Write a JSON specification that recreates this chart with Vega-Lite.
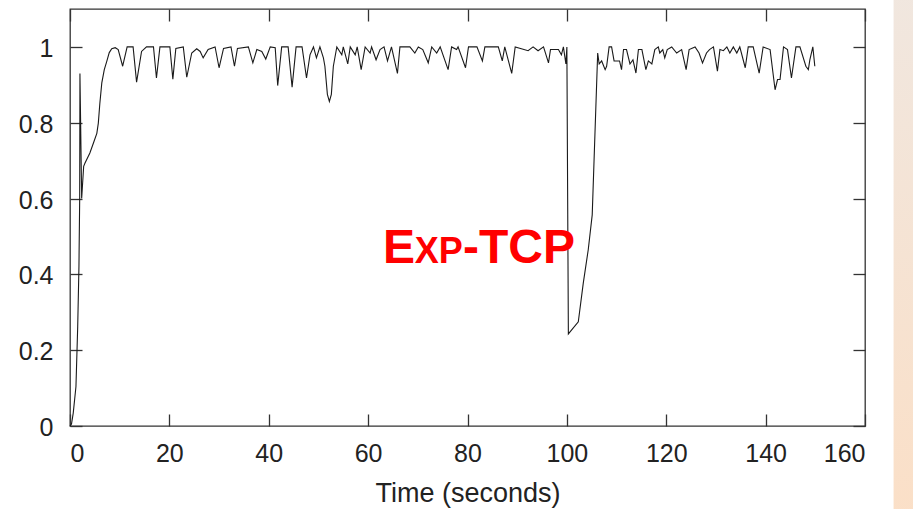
{
  "$schema": "https://vega.github.io/schema/vega-lite/v6.json",
  "width": 795,
  "height": 417,
  "autosize": {"type": "none"},
  "padding": {"left": 70, "top": 9, "right": 48, "bottom": 83},
  "background": "white",
  "config": {
    "view": {"stroke": "#333333", "strokeWidth": 1.3},
    "axis": {
      "grid": false,
      "domain": false,
      "tickColor": "#333333",
      "tickWidth": 1.3,
      "tickSize": -12,
      "labelFont": "Liberation Sans",
      "labelFontSize": 25,
      "labelColor": "#222222",
      "titleFont": "Liberation Sans",
      "titleFontSize": 27,
      "titleFontWeight": "normal",
      "titleColor": "#222222"
    }
  },
  "resolve": {"axis": {"x": "independent", "y": "independent"}},
  "layer": [
    {
      "data": {"values": [{"label": "strip"}]},
      "mark": {"type": "rect", "clip": false, "fill": {"gradient": "linear", "x1": 0, "y1": 0, "x2": 0, "y2": 1, "stops": [{"offset": 0, "color": "#F0E7E0"}, {"offset": 1, "color": "#FBDFC6"}]}},
      "encoding": {
        "x": {"datum": 165.75, "type": "quantitative", "scale": {"domain": [0, 160], "nice": false}, "axis": null},
        "x2": {"datum": 175},
        "y": {"datum": 1.2, "type": "quantitative", "scale": {"domain": [0, 1.1], "nice": false, "zero": false}, "axis": null},
        "y2": {"datum": -0.3}
      }
    },
    {
      "data": {"values": [
        {"t":0,"v":0},{"t":0.3,"v":0.005},{"t":0.65,"v":0.034},{"t":1.2,"v":0.104},{"t":1.55,"v":0.262},{"t":1.8,"v":0.42},{"t":1.95,"v":0.6},{"t":2.0,"v":0.93},{"t":2.35,"v":0.6},{"t":2.75,"v":0.685},{"t":3.0,"v":0.693},{"t":4.0,"v":0.72},{"t":4.7,"v":0.746},{"t":5.4,"v":0.772},{"t":5.7,"v":0.799},{"t":6.0,"v":0.85},{"t":6.4,"v":0.905},{"t":6.9,"v":0.94},{"t":7.4,"v":0.962},{"t":7.9,"v":0.985},{"t":8.4,"v":0.995},{"t":9.1,"v":0.998},{"t":9.7,"v":0.993},{"t":10.6,"v":0.949},{"t":11.5,"v":1.0},{"t":12.7,"v":1.0},{"t":13.4,"v":0.907},{"t":14.4,"v":0.988},{"t":15.4,"v":1.0},{"t":16.8,"v":1.0},{"t":17.4,"v":0.918},{"t":18.1,"v":1.0},{"t":20.1,"v":1.0},{"t":20.7,"v":0.915},{"t":21.3,"v":0.996},{"t":22.8,"v":1.0},{"t":23.5,"v":0.92},{"t":24.5,"v":0.984},{"t":25.5,"v":0.995},{"t":26.2,"v":0.988},{"t":26.8,"v":0.971},{"t":27.8,"v":0.993},{"t":29.2,"v":1.0},{"t":30.0,"v":0.945},{"t":30.9,"v":0.996},{"t":32.4,"v":1.0},{"t":33.1,"v":0.949},{"t":33.7,"v":0.996},{"t":35.9,"v":1.0},{"t":36.8,"v":0.958},{"t":37.6,"v":0.993},{"t":38.6,"v":0.988},{"t":39.4,"v":0.968},{"t":40.3,"v":1.0},{"t":41.3,"v":0.998},{"t":41.8,"v":0.898},{"t":42.6,"v":1.0},{"t":43.9,"v":1.0},{"t":44.7,"v":0.894},{"t":45.5,"v":1.0},{"t":46.7,"v":1.0},{"t":47.6,"v":0.918},{"t":48.3,"v":0.979},{"t":49.0,"v":1.0},{"t":49.6,"v":0.971},{"t":50.3,"v":1.0},{"t":51.0,"v":0.971},{"t":51.3,"v":0.949},{"t":51.8,"v":0.875},{"t":52.2,"v":0.856},{"t":52.6,"v":0.875},{"t":53.0,"v":0.949},{"t":53.7,"v":1.0},{"t":54.7,"v":0.979},{"t":55.0,"v":1.0},{"t":55.9,"v":0.955},{"t":56.4,"v":1.0},{"t":57.4,"v":0.979},{"t":57.8,"v":1.0},{"t":58.6,"v":0.94},{"t":59.4,"v":1.0},{"t":60.4,"v":0.984},{"t":60.7,"v":1.0},{"t":61.6,"v":0.966},{"t":62.4,"v":0.993},{"t":63.2,"v":1.0},{"t":63.9,"v":0.963},{"t":64.7,"v":1.0},{"t":65.9,"v":0.93},{"t":66.4,"v":1.0},{"t":68.4,"v":1.0},{"t":69.4,"v":0.984},{"t":70.1,"v":1.0},{"t":71.0,"v":0.993},{"t":72.1,"v":0.958},{"t":72.8,"v":1.0},{"t":73.8,"v":0.984},{"t":74.5,"v":1.0},{"t":76.1,"v":0.94},{"t":76.8,"v":1.0},{"t":77.8,"v":0.993},{"t":78.1,"v":1.0},{"t":79.6,"v":0.945},{"t":80.2,"v":1.0},{"t":81.9,"v":1.0},{"t":83.0,"v":0.963},{"t":83.5,"v":1.0},{"t":86.2,"v":1.0},{"t":87.0,"v":0.963},{"t":87.5,"v":1.0},{"t":88.9,"v":0.93},{"t":89.6,"v":1.0},{"t":92.2,"v":0.99},{"t":93.2,"v":1.0},{"t":94.2,"v":0.99},{"t":95.3,"v":1.0},{"t":96.3,"v":0.958},{"t":96.7,"v":0.993},{"t":98.3,"v":0.993},{"t":98.9,"v":0.979},{"t":99.3,"v":1.0},{"t":99.8,"v":0.955},{"t":100.0,"v":1.0},{"t":100.3,"v":0.243},{"t":102.3,"v":0.275},{"t":103.3,"v":0.377},{"t":104.3,"v":0.465},{"t":105.1,"v":0.557},{"t":105.7,"v":0.79},{"t":106.2,"v":0.984},{"t":106.5,"v":0.955},{"t":107.0,"v":0.963},{"t":107.7,"v":0.94},{"t":108.0,"v":0.949},{"t":108.5,"v":1.0},{"t":109.0,"v":1.0},{"t":109.5,"v":0.963},{"t":110.6,"v":0.963},{"t":111.0,"v":0.94},{"t":111.4,"v":0.993},{"t":112.0,"v":0.993},{"t":112.7,"v":0.955},{"t":113.3,"v":0.966},{"t":113.9,"v":0.931},{"t":114.4,"v":0.993},{"t":115.1,"v":0.993},{"t":115.9,"v":0.94},{"t":116.4,"v":0.963},{"t":117.1,"v":0.955},{"t":117.7,"v":0.993},{"t":118.4,"v":1.0},{"t":118.7,"v":0.984},{"t":119.3,"v":0.993},{"t":119.7,"v":0.971},{"t":120.2,"v":0.993},{"t":121.1,"v":1.0},{"t":122.1,"v":0.984},{"t":123.1,"v":0.993},{"t":124.0,"v":0.94},{"t":124.6,"v":0.993},{"t":125.8,"v":1.0},{"t":126.6,"v":0.984},{"t":127.3,"v":0.958},{"t":128.1,"v":0.984},{"t":128.7,"v":0.993},{"t":129.5,"v":1.0},{"t":130.3,"v":0.936},{"t":130.8,"v":0.993},{"t":131.5,"v":0.99},{"t":132.2,"v":1.0},{"t":132.8,"v":0.984},{"t":133.5,"v":1.0},{"t":134.2,"v":0.984},{"t":134.8,"v":1.0},{"t":135.9,"v":0.945},{"t":136.5,"v":1.0},{"t":137.5,"v":1.0},{"t":138.7,"v":0.931},{"t":139.5,"v":1.0},{"t":140.9,"v":0.993},{"t":141.9,"v":0.887},{"t":142.4,"v":0.914},{"t":142.9,"v":0.914},{"t":143.6,"v":1.0},{"t":144.4,"v":0.993},{"t":145.2,"v":0.918},{"t":146.1,"v":1.0},{"t":146.9,"v":1.0},{"t":148.1,"v":0.949},{"t":148.6,"v":0.94},{"t":148.9,"v":0.966},{"t":149.5,"v":1.0},{"t":149.9,"v":0.949}
      ]},
      "mark": {"type": "line", "color": "#1a1a1a", "strokeWidth": 1.1},
      "encoding": {
        "x": {"field": "t", "type": "quantitative", "scale": {"domain": [0, 160], "nice": false},
          "axis": {"orient": "bottom", "values": [0, 20, 40, 60, 80, 100, 120, 140, 160], "labelPadding": 27.5, "title": "Time (seconds)", "titlePadding": 14}},
        "y": {"field": "v", "type": "quantitative", "scale": {"domain": [0, 1.1], "nice": false, "zero": false},
          "axis": {"orient": "left", "values": [0, 0.2, 0.4, 0.6, 0.8, 1], "format": "~g", "labelPadding": 29, "labelOffset": 1.5, "title": null}}
      }
    },
    {
      "data": {"values": [{"label": "E"}]},
      "mark": {"type": "text", "font": "Liberation Sans", "fontWeight": "bold", "fontSize": 48, "color": "#FF0000", "align": "left", "baseline": "alphabetic"},
      "encoding": {
        "text": {"field": "label"},
        "x": {"datum": 63.0, "type": "quantitative", "axis": {"orient": "top", "values": [0, 20, 40, 60, 80, 100, 120, 140, 160], "labels": false, "title": null}},
        "y": {"datum": 0.429, "type": "quantitative", "axis": {"orient": "right", "values": [0, 0.2, 0.4, 0.6, 0.8, 1], "labels": false, "title": null}}
      }
    },
    {
      "data": {"values": [{"label": "XP"}]},
      "mark": {"type": "text", "font": "Liberation Sans", "fontWeight": "bold", "fontSize": 36, "color": "#FF0000", "align": "left", "baseline": "alphabetic"},
      "encoding": {
        "text": {"field": "label"},
        "x": {"datum": 69.4, "type": "quantitative", "axis": null},
        "y": {"datum": 0.429, "type": "quantitative", "axis": null}
      }
    },
    {
      "data": {"values": [{"label": "-TCP"}]},
      "mark": {"type": "text", "font": "Liberation Sans", "fontWeight": "bold", "fontSize": 48, "color": "#FF0000", "align": "left", "baseline": "alphabetic"},
      "encoding": {
        "text": {"field": "label"},
        "x": {"datum": 79.1, "type": "quantitative", "axis": null},
        "y": {"datum": 0.429, "type": "quantitative", "axis": null}
      }
    }
  ]
}
